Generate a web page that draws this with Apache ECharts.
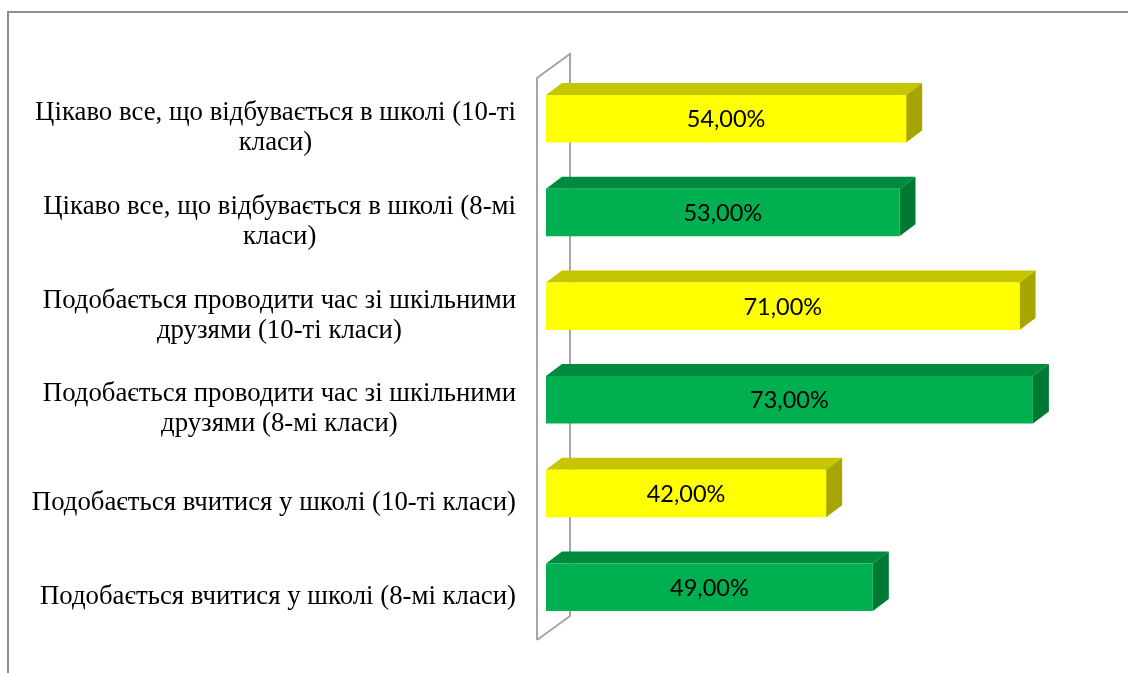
<!DOCTYPE html>
<html>
<head>
<meta charset="utf-8">
<script src="https://cdn.jsdelivr.net/npm/echarts@6/dist/echarts.min.js"></script>
<style>
html,body{margin:0;padding:0;background:#fff;}
#chart{width:1128px;height:673px;}
</style>
</head>
<body>
<div id="chart"></div>
<script>
// Categories, top to bottom
const categories = [
  "Цікаво все, що відбувається в школі (10-ті\nкласи)",
  "Цікаво все, що відбувається в школі (8-мі\nкласи)",
  "Подобається проводити час зі шкільними\nдрузями (10-ті класи)",
  "Подобається проводити час зі шкільними\nдрузями (8-мі класи)",
  "Подобається вчитися у школі (10-ті класи)",
  "Подобається вчитися у школі (8-мі класи)"
];
// Percent values
const values = [54, 53, 71, 73, 42, 49];
// Grade group of each bar
const grades = ["10", "8", "10", "8", "10", "8"];

const palette = {
  "10": { front: "#FFFF00", top: "#C6C600", side: "#A6A600" },
  "8":  { front: "#00B050", top: "#008A3E", side: "#007A33" }
};
const DX = 16, DY = -12;

function renderBar(params, api) {
  const v = api.value(0);
  const i = api.value(1);
  const p0 = api.coord([0, i]);
  const p1 = api.coord([v, i]);
  const band = api.size([0, 1])[1];
  const h = band * 0.507;
  const x0 = p0[0], x1 = p1[0], yc = p0[1];
  const yt = yc - h / 2, yb = yc + h / 2;
  const c = palette[grades[params.dataIndex]];
  const label = v.toFixed(2).replace('.', ',') + '%';
  return {
    type: 'group',
    children: [
      { type: 'polygon', shape: { points: [[x0, yt], [x0 + DX, yt + DY], [x1 + DX, yt + DY], [x1, yt]] },
        style: { fill: c.top } },
      { type: 'polygon', shape: { points: [[x1, yt], [x1 + DX, yt + DY], [x1 + DX, yb + DY], [x1, yb]] },
        style: { fill: c.side } },
      { type: 'rect', shape: { x: x0, y: yt, width: x1 - x0, height: h },
        style: { fill: c.front } },
      { type: 'text', style: { x: (x0 + x1) / 2, y: yc + 1, text: label, align: 'center', verticalAlign: 'middle',
        font: '23.5px Lato', fill: '#000' } }
    ]
  };
}

function renderWall(params, api) {
  const cs = params.coordSys;
  const fx = cs.x - 9, bx = cs.x + 24;
  const fTop = cs.y + 6, fBot = cs.y + cs.height + 6;
  const bTop = cs.y - 18, bBot = cs.y + cs.height - 18;
  return {
    type: 'polyline',
    shape: { points: [[fx, fBot], [fx, fTop], [bx, bTop], [bx, bBot], [fx, fBot]] },
    style: { stroke: '#A6A6A6', lineWidth: 2, fill: null }
  };
}

const chart = echarts.init(document.getElementById('chart'), null, { renderer: 'canvas' });
chart.setOption({
  animation: false,
  backgroundColor: '#fff',
  graphic: [{
    type: 'rect', silent: true, z: -10,
    shape: { x: 8, y: 12, width: 1200, height: 720 },
    style: { fill: null, stroke: '#8E8E8E', lineWidth: 2 }
  }],
  grid: { left: 546, top: 72, height: 562, width: 533.6 },
  xAxis: {
    type: 'value', min: 0, max: 80,
    axisLine: { show: false }, axisTick: { show: false },
    axisLabel: { show: false }, splitLine: { show: false }
  },
  yAxis: {
    type: 'category', data: categories, inverse: true,
    axisLine: { show: false }, axisTick: { show: false }, splitLine: { show: false },
    axisLabel: {
      interval: 0, margin: 30, align: 'right', color: '#000',
      padding: [19, 0, 0, 0],
      fontFamily: 'Liberation Serif', fontSize: 26.8, lineHeight: 30,
      formatter: function (v) {
        return v.split('\n').map(function (l) { return '{c|' + l + '}'; }).join('\n');
      },
      rich: { c: { align: 'center', fontFamily: 'Liberation Serif', fontSize: 26.8, lineHeight: 30, color: '#000' } }
    }
  },
  series: [
    { type: 'custom', name: 'wall', renderItem: renderWall, data: [[0, 0]], encode: { x: 0, y: 1 }, z: 1, silent: true },
    { type: 'custom', name: 'bars', renderItem: renderBar,
      data: values.map(function (v, i) { return [v, i]; }), encode: { x: 0, y: 1 }, z: 2 }
  ]
});
</script>
</body>
</html>
